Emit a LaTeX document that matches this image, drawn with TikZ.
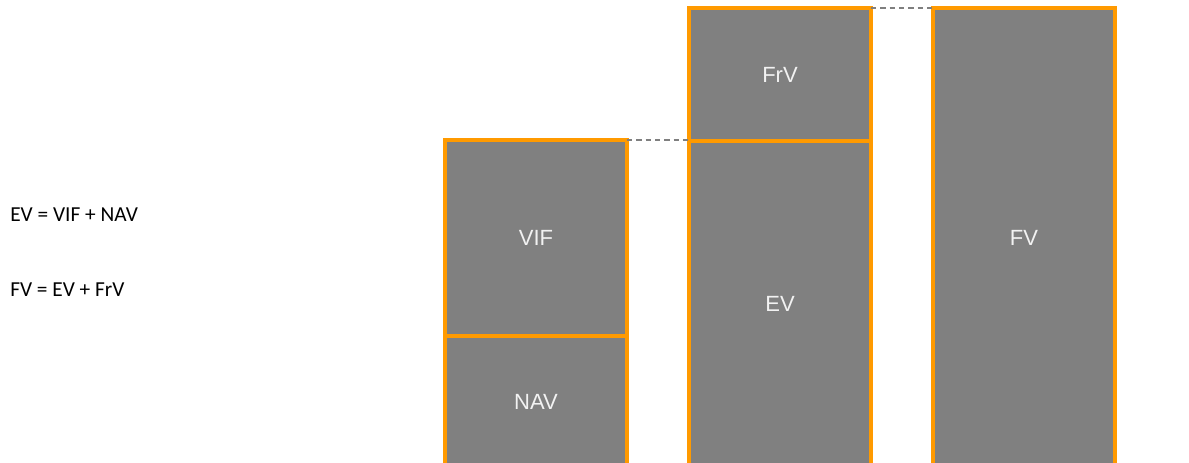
\documentclass[tikz,border=0pt]{standalone}
\usepackage{fontspec}
\setmainfont{Carlito}
\newfontfamily\labelfont{Liberation Sans}
\definecolor{boxgray}{HTML}{808080}
\definecolor{boxorange}{HTML}{FF9A00}
\definecolor{labelwhite}{HTML}{F2F2F2}
\definecolor{dashgray}{HTML}{7F7F7F}
\tikzset{
  bar/.style={draw=boxorange, line width=2.3pt, fill=boxgray, rectangle, anchor=north west,
    minimum width=182*0.75pt, inner sep=0pt, outer sep=0pt,
    font=\labelfont\fontsize{16.5}{19}\selectfont, text=labelwhite},
  guide/.style={draw=dashgray, line width=1.5pt, dash pattern=on 4pt off 3pt},
  eqn/.style={anchor=west, inner sep=0pt, font=\fontsize{16}{19}\selectfont}
}
\begin{document}
\begin{tikzpicture}[x=0.75pt, y=-0.75pt]
\useasboundingbox (0,0) rectangle (1189,463);
\begin{scope}
\clip (0,0) rectangle (1189,463);
\node[bar, minimum height=196*0.75pt] (vif) at (445,140) {VIF};
\node[bar, minimum height=132*0.75pt] (nav) at (445,336) {NAV};
\node[bar, minimum height=133*0.75pt] (frv) at (689,8) {FrV};
\node[bar, minimum height=326*0.75pt] (ev) at (689,141) {EV};
\node[bar, minimum height=460*0.75pt] (fv) at (933,8) {FV};
\end{scope}
\draw[guide] (vif.north east) -- (vif.north east -| ev.west);
\draw[guide] (frv.north east) -- (fv.north west);
\node[eqn] (eq1) at (10,215) {EV = VIF + NAV};
\node[eqn] (eq2) at (10,290) {FV = EV + FrV};
\end{tikzpicture}
\end{document}
